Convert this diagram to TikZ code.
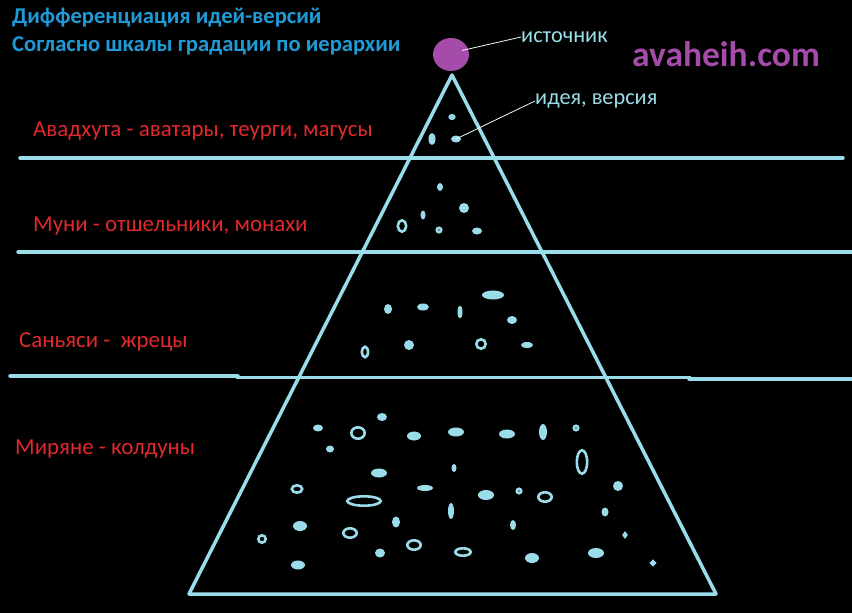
\documentclass[tikz,border=0pt]{standalone}
\usepackage{fontspec}
\setmainfont{Carlito}
\usepackage{tikz}
\usetikzlibrary{calc}
\usetikzlibrary{shapes.geometric}
\definecolor{lineblue}{RGB}{155,220,235}
\definecolor{labelred}{RGB}{225,40,45}
\definecolor{titleblue}{RGB}{30,155,215}
\definecolor{srcpurple}{RGB}{165,75,170}
\tikzset{
 level/.style={lineblue, line width=3.5pt, line cap=round},
 caste/.style={labelred, anchor=west, inner sep=0pt, font=\fontsize{22.9}{26}\selectfont},
 heading/.style={titleblue, anchor=west, inner sep=0pt, font=\bfseries\fontsize{22.6}{26}\selectfont},
 callout/.style={lineblue, anchor=west, inner sep=0pt, font=\fontsize{22.3}{26}\selectfont},
 pointer/.style={white!85!lineblue, line width=0.8pt}
}

\begin{document}
\begin{tikzpicture} [x=1pt, y=-1pt]
\fill[black] (0,0) rectangle (852,613);
\useasboundingbox (0,0) rectangle (852,613);
% levels
\draw[level] (20,158)--(843,158);
\draw[level] (18,252)--(852,252);
\draw[level] (10,376)--(238,376);
\draw[level, line cap=butt] (236,377.3)--(691,377.3);
\draw[level] (689,379)--(852,379);
% pyramid
\coordinate (apex) at (452,75);
\coordinate (baseL) at (189,594);
\coordinate (baseR) at (716,594);
\draw[lineblue, line width=3.5pt, line join=round] (apex)--(baseL)--(baseR)--cycle;
% ideas
\foreach \x/\y/\rx/\ry in {432/139/3.5/6, 440/187/3/4, 464/208/5/5, 423/215/2.5/4.5, 477/231/5/3.5,
 493/295/11/4.5, 388/309/4/5, 423/307/6/3.5, 460/312/2.5/6.5, 512/320/5/4, 409/345/5/5, 527/345/6/3,
 382/417/5/4, 318/428/5/3.5, 330/449/4/3.5, 414/436/7/4.5, 456/432/8/4.5, 507/434/8/4.5, 543/432/4/8,
 379/473/8/4.5, 454/468/2.5/4, 425/488/8/3, 486/495/8/5, 618/486/5/5, 451/511/3/8, 605/512/3.5/4.5,
 396/522/4/5.5, 300/526/7/5, 513/525/3/5, 380/553/5/4.5, 532/558/7/5, 596/553/8/5, 298/565/7/4.5} {
 \fill[lineblue] (\x,\y) ellipse [x radius=\rx pt, y radius=\ry pt];
}
\foreach \x/\y/\rx/\ry in {452/117/3.5/3, 402/226/5.5/7, 439/230/3.5/3.5, 365/352/4.5/6.5, 481/344/6/6,
 358/433/8/7, 576/428/3.5/3.5, 582/462/6.5/13, 297/489/6.5/5, 364/501/18/6, 519/491/3.5/3.5,
 545/497/8/6, 625/535/2.5/3, 262/539/5/5, 350/533/8/6, 414/545/8/6, 463/552/9/5, 653/563/3/3} {
 \draw[lineblue, line width=2.6pt] (\x,\y) ellipse [x radius=\rx pt - 1.3pt, y radius=\ry pt - 1.3pt];
}
\coordinate (idea) at (456,139);
\fill[lineblue] (idea) ellipse [x radius=5pt, y radius=3.5pt];
% source
\node[ellipse, fill=srcpurple, minimum width=36pt, minimum height=33pt, inner sep=0pt] (src) at (451,54.5) {};
\node[callout] (srctext) at (521,37) {источник};
\node[callout] (ideatext) at (535,101) {идея, версия};
\draw[pointer] ([shift={(11,-4)}]src.center)--(srctext.west);
\draw[pointer] (idea)--(ideatext.west);
% texts
\node[heading] (title1) at (12,17.5) {Дифференциация идей-версий};
\node[heading] (title2) at (12,45.5) {Согласно шкалы градации по иерархии};
\node[srcpurple, anchor=west, inner sep=0pt, font=\bfseries\fontsize{35.5}{40}\selectfont] (site) at (632,54) {avaheih.com};
\node[caste] (avadhuta) at (33,131) {Авадхута - аватары, теурги, магусы};
\node[caste] (muni) at (33,226) {Муни - отшельники, монахи};
\node[caste] (sannyasi) at (19,342) {Саньяси -~~жрецы};
\node[caste] (miryane) at (15,449) {Миряне - колдуны};
\end{tikzpicture}
\end{document}
